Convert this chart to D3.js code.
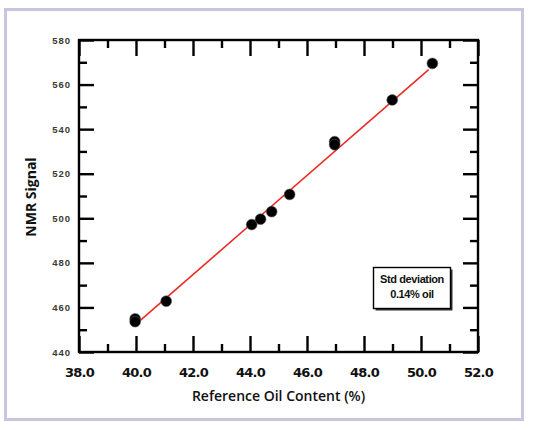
<!DOCTYPE html>
<html>
<head>
<meta charset="utf-8">
<script src="https://cdn.jsdelivr.net/npm/d3@7"></script>
<style>
  html, body { margin: 0; padding: 0; background: #ffffff; }
  svg { display: block; }
</style>
</head>
<body>
<svg id="chart" width="533" height="430"></svg>
<script>
// ---- data ----
const oilContent = [39.97, 39.97, 41.06, 44.06, 44.37, 44.76, 45.39, 46.97, 46.97, 48.99, 50.40];
const nmrSignal  = [454.9, 453.6, 462.8, 497.2, 499.6, 503.0, 510.7, 534.4, 533.0, 553.1, 569.5];
const fitX = [40.0, 50.27];
const fitY = [452.5, 566.7];
const xMajorTicks = [38, 40, 42, 44, 46, 48, 50, 52];
const xMinorTicks = [39, 41, 43, 45, 47, 49, 51];
const yMajorTicks = [440, 460, 480, 500, 520, 540, 560, 580];
const yMinorTicks = [450, 470, 490, 510, 530, 550, 570];
const xTitle = "Reference Oil Content (%)";
const yTitle = "NMR Signal";
const noteLines = ["Std deviation", "0.14% oil"];

// ---- layout ----
const svg = d3.select("#chart");
const L = 79, R = 478, T = 40, B = 352;

// outer frame
svg.append("rect")
  .attr("x", 5.5).attr("y", 9.5).attr("width", 517).attr("height", 410)
  .attr("fill", "#ffffff").attr("stroke", "#c6c6e0").attr("stroke-width", 3);

const x = d3.scaleLinear().domain([38, 52]).range([L, R]);
const y = d3.scaleLinear().domain([440, 580]).range([B, T]);

const tickW = 2.4;
// bottom axis (labels + major inward ticks)
const gBottom = svg.append("g").attr("transform", `translate(0,${B})`)
  .call(d3.axisBottom(x).tickValues(xMajorTicks).tickSizeInner(-16).tickSizeOuter(0)
        .tickFormat(d3.format(".1f")).tickPadding(16));
const gBottomMinor = svg.append("g").attr("transform", `translate(0,${B})`)
  .call(d3.axisBottom(x).tickValues(xMinorTicks).tickSizeInner(-8).tickSizeOuter(0).tickFormat(""));
// top axis
const gTop = svg.append("g").attr("transform", `translate(0,${T})`)
  .call(d3.axisTop(x).tickValues(xMajorTicks).tickSizeInner(-16).tickSizeOuter(0).tickFormat(""));
const gTopMinor = svg.append("g").attr("transform", `translate(0,${T})`)
  .call(d3.axisTop(x).tickValues(xMinorTicks).tickSizeInner(-8).tickSizeOuter(0).tickFormat(""));
// left axis
const gLeft = svg.append("g").attr("transform", `translate(${L},0)`)
  .call(d3.axisLeft(y).tickValues(yMajorTicks).tickSizeInner(-15).tickSizeOuter(0)
        .tickFormat(d3.format("d")).tickPadding(8));
const gLeftMinor = svg.append("g").attr("transform", `translate(${L},0)`)
  .call(d3.axisLeft(y).tickValues(yMinorTicks).tickSizeInner(-8).tickSizeOuter(0).tickFormat(""));
// right axis
const gRight = svg.append("g").attr("transform", `translate(${R},0)`)
  .call(d3.axisRight(y).tickValues(yMajorTicks).tickSizeInner(-15).tickSizeOuter(0).tickFormat(""));
const gRightMinor = svg.append("g").attr("transform", `translate(${R},0)`)
  .call(d3.axisRight(y).tickValues(yMinorTicks).tickSizeInner(-8).tickSizeOuter(0).tickFormat(""));

svg.selectAll(".domain").remove();
svg.selectAll(".tick line").attr("stroke", "#000").attr("stroke-width", tickW);

gBottom.selectAll(".tick text")
  .attr("font-family", "'DejaVu Sans', sans-serif").attr("font-size", 13)
  .attr("font-weight", "bold").attr("letter-spacing", "-0.8px").attr("fill", "#111");
gLeft.selectAll(".tick text")
  .attr("font-family", "'Liberation Sans', Arial, sans-serif").attr("font-size", 9.5)
  .attr("font-weight", "bold").attr("letter-spacing", "1px").attr("fill", "#3a3a30");

// plot frame
svg.append("rect")
  .attr("x", L).attr("y", T).attr("width", R - L).attr("height", B - T)
  .attr("fill", "none").attr("stroke", "#000").attr("stroke-width", 2.4);

// fit line
svg.append("path")
  .datum(fitX.map((d, i) => [d, fitY[i]]))
  .attr("d", d3.line().x(d => x(d[0])).y(d => y(d[1])))
  .attr("fill", "none").attr("stroke", "#ee2a24").attr("stroke-width", 1.6);

// points
svg.append("g").selectAll("circle")
  .data(oilContent.map((d, i) => [d, nmrSignal[i]]))
  .join("circle")
  .attr("cx", d => x(d[0])).attr("cy", d => y(d[1])).attr("r", 5.4)
  .attr("fill", "#000").attr("stroke", "#555").attr("stroke-width", 0.6);

// note box
const bx = 373.5, by = 267.5, bw = 77, bh = 41;
svg.append("rect").attr("x", bx + 2).attr("y", by + 2).attr("width", bw).attr("height", bh)
  .attr("fill", "#333");
svg.append("rect").attr("x", bx).attr("y", by).attr("width", bw).attr("height", bh)
  .attr("fill", "#fff").attr("stroke", "#000").attr("stroke-width", 1.4);
svg.append("g").selectAll("text").data(noteLines).join("text")
  .attr("x", bx + bw / 2).attr("y", (d, i) => 283 + i * 15)
  .attr("text-anchor", "middle")
  .attr("font-family", "'Liberation Sans', Arial, sans-serif")
  .attr("font-size", 11).attr("font-weight", "bold").attr("letter-spacing", "-0.4px")
  .attr("fill", "#111")
  .text(d => d);

// axis titles
svg.append("text")
  .attr("x", (L + R) / 2).attr("y", 401)
  .attr("text-anchor", "middle")
  .attr("font-family", "'Open Sans', sans-serif").attr("font-size", 14).attr("font-weight", 600)
  .attr("fill", "#111")
  .text(xTitle);
svg.append("text")
  .attr("transform", `translate(36,${(T + B) / 2 + 1}) rotate(-90)`)
  .attr("text-anchor", "middle")
  .attr("font-family", "'Open Sans', sans-serif").attr("font-size", 14).attr("font-weight", 700)
  .attr("fill", "#111")
  .text(yTitle);
</script>
</body>
</html>
